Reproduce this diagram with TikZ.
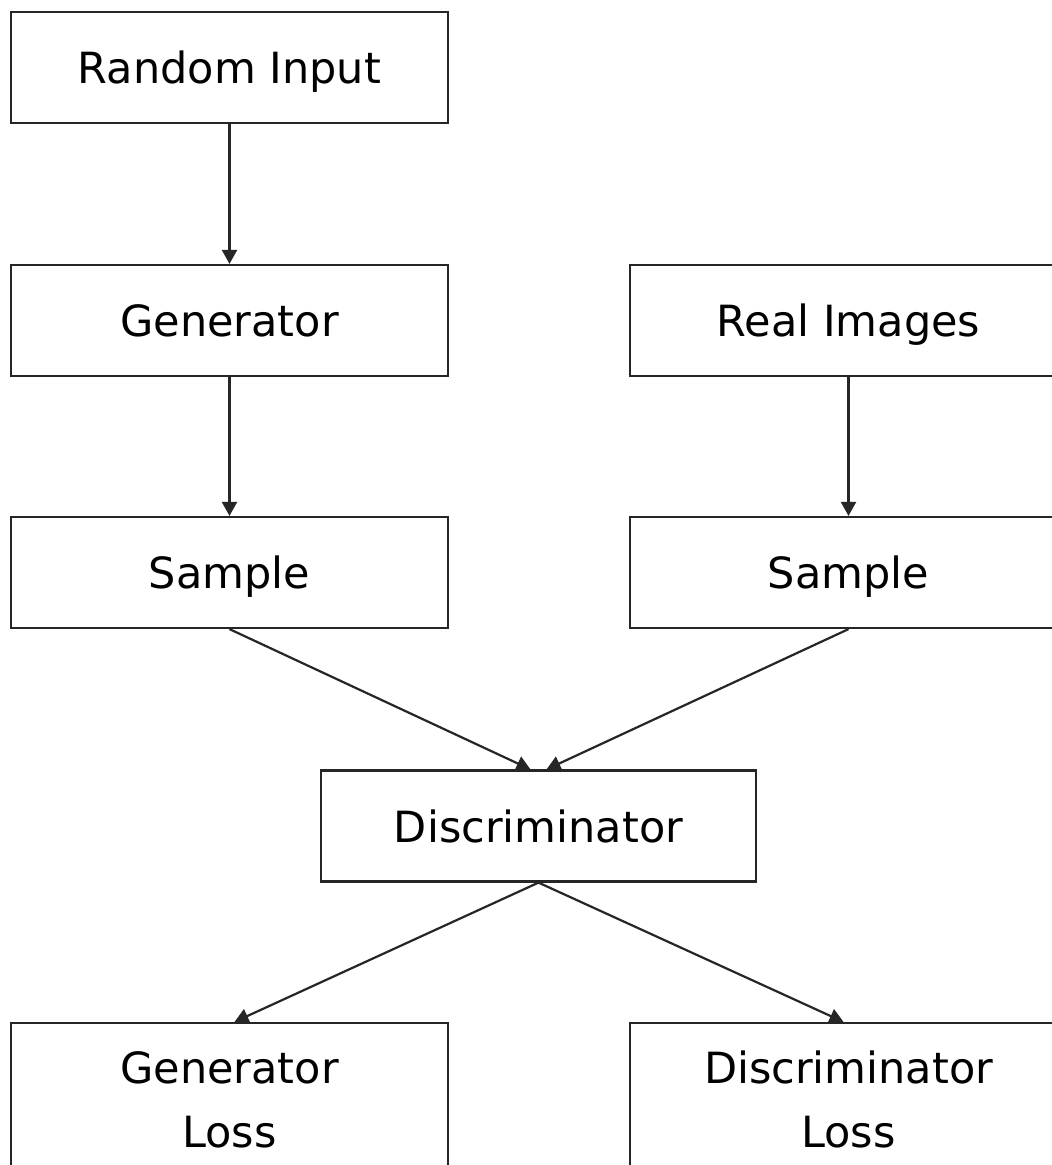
\documentclass[tikz,border=0pt]{standalone}
\usepackage{fontspec}
\setmainfont{DejaVu Sans}
\usetikzlibrary{arrows.meta,calc}
\begin{document}
\begin{tikzpicture}[x=1pt,y=-1pt,
  box/.style={draw=black!85,line width=2.2pt,minimum width=437pt,minimum height=111pt,inner sep=0pt,align=center,font=\fontsize{43}{64}\selectfont,text height=32pt,text depth=0pt},
  lbl/.style={font=\fontsize{43}{64}\selectfont,inner sep=0pt,anchor=base},
  arr/.style={draw=black!85,line width=2.2pt,-{Triangle[length=14pt,width=15pt]}}]
\useasboundingbox[fill=white] (0,0) rectangle (1052,1165);
\begin{scope}
\clip (0,0) rectangle (1052,1165);
\node[box] (ri) at (229.5,67.5) {Random Input};
\node[box] (gen) at (229.5,320.5) {Generator};
\node[box] (real) at (848.5,320.5) {Real Images};
\node[box] (s1) at (229.5,572.5) {Sample};
\node[box] (s2) at (848.5,572.5) {Sample};
\node[box,minimum width=435pt] (disc) at (538.5,826) {Discriminator};
\node[box,minimum height=150pt] (gl) at (229.5,1098) {};
\node[box,minimum height=150pt] (dl) at (848.5,1098) {};
\node[lbl] (gl1) at (229.5,1083) {Generator};
\node[lbl] (gl2) at (229.5,1147) {Loss};
\node[lbl] (dl1) at (848.5,1083) {Discriminator};
\node[lbl] (dl2) at (848.5,1147) {Loss};
\draw[arr] (ri.south) -- (gen.north);
\draw[arr] (gen.south) -- (s1.north);
\draw[arr] (real.south) -- (s2.north);
\coordinate (d1) at ($(disc.north)+(-8,0)$);
\coordinate (d2) at ($(disc.north)+(8,0)$);
\draw[arr] (s1.south) -- (d1);
\draw[arr] (s2.south) -- (d2);
\coordinate (g1) at ($(gl.north)+(5,0)$);
\coordinate (g2) at ($(dl.north)+(-5,0)$);
\draw[arr] (disc.south) -- (g1);
\draw[arr] (disc.south) -- (g2);
\end{scope}
\end{tikzpicture}
\end{document}
